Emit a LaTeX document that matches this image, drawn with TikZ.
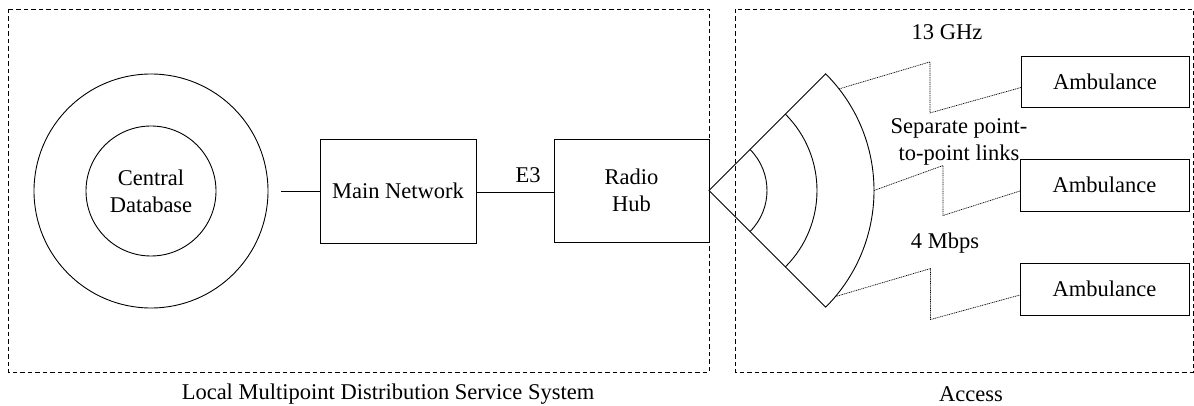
\documentclass[tikz,border=0pt]{standalone}
\usepackage{fontspec}
\setmainfont{Liberation Serif}
\usetikzlibrary{positioning, calc}

\begin{document}
\begin{tikzpicture}[
        % unita' in punti, asse y verso il basso
        x=1pt, y=-1pt,
        every node/.style={font=\fontsize{22.5}{27}\selectfont},
        % stili per i blocchi
        box/.style={draw, line width=0.9pt, inner sep=0pt, outer sep=0pt, align=center},
        ring/.style={draw, circle, line width=0.9pt, inner sep=0pt, outer sep=0pt, align=center},
        area/.style={draw, line width=0.9pt, dash pattern=on 4.5pt off 3pt},
        link/.style={line width=0.7pt, dash pattern=on 1pt off 0.8pt}
    ]
    \useasboundingbox (0,0) rectangle (1194,406);

    % le due zone tratteggiate
    \draw[area] (8,9) rectangle (709,372);
    \draw[area] (735,9) rectangle (1193,372);
    \node (lmds) at (388,394) {Local Multipoint Distribution Service System};
    \node (access) at (971,394) {Access};

    % database centrale
    \node[ring, minimum size=234pt] (dbout) at (151,191) {};
    \node[ring, minimum size=130pt] (db) at (151,191) {Central\\Database};

    \node[box, minimum width=156pt, minimum height=104pt] (net) at (398,191) {Main Network};
    \node[box, minimum width=155pt, minimum height=103pt] (hub) at (631.5,190.5) {Radio\\Hub};

    \draw[line width=0.9pt] ([xshift=13pt]dbout.east) -- (net.west);
    \draw[line width=0.9pt] (net.east |- 0,192) -- (hub.west |- 0,192);
    \node (e3) at (528,175) {E3};

    % settore di antenna
    \coordinate (apex) at (hub.east);
    \draw[line width=0.9pt] (apex) -- ++(-45:165) arc[start angle=-45, end angle=45, radius=165] -- cycle;
    \draw[line width=0.9pt] (apex) ++(-45:108) arc[start angle=-45, end angle=45, radius=108];
    \draw[line width=0.9pt] (apex) ++(-45:58) arc[start angle=-45, end angle=45, radius=58];
    \coordinate (l1) at ($(apex)+(-38:165)$);
    \coordinate (l2) at ($(apex)+(0:165)$);
    \coordinate (l3) at ($(apex)+(40:165)$);

    % ambulanze
    \node[box, minimum width=168pt, minimum height=51pt] (amb1) at (1105,81.5) {Ambulance};
    \node[box, minimum width=169pt, minimum height=52pt] (amb2) at (1104.5,185) {Ambulance};
    \node[box, minimum width=169pt, minimum height=52pt] (amb3) at (1104.5,289) {Ambulance};

    % collegamenti radio punto-punto
    \draw[link] (l1) -- ++(91,-27) -- ++(0,51) -- ([yshift=-6pt]amb1.west);
    \draw[link] (l2) -- ++(69,-25) -- ++(0,50) -- ([yshift=-6pt]amb2.west);
    \draw[link] (l3) -- ++(95,-28) -- ++(0,51) -- ([yshift=-6pt]amb3.west);

    \node (ghz) at (947,32) {13 GHz};
    \node[align=center] (sep) at (959,142) {Separate point-\\to-point links};
    \node (mbps) at (945,243) {4 Mbps};
\end{tikzpicture}
\end{document}
